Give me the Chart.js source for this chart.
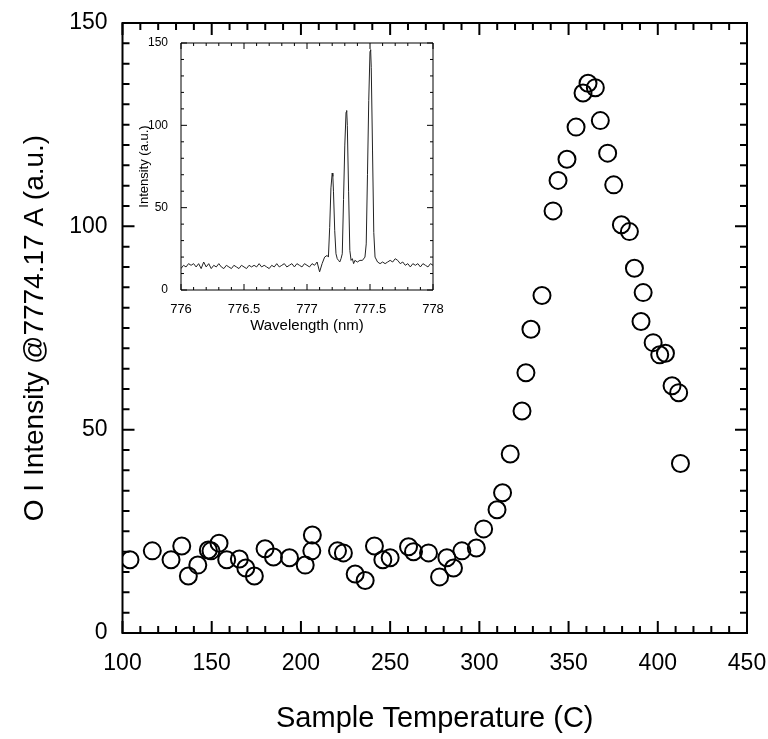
<!DOCTYPE html>
<html>
<head>
<meta charset="utf-8">
<script src="https://cdn.jsdelivr.net/npm/chart.js@4.4.1/dist/chart.umd.min.js"></script>
<style>
  body { margin: 0; background: #fff; }
  #wrap { position: relative; width: 768px; height: 739px; }
  #main { position: absolute; left: 0; top: 0; }
  #inset { position: absolute; left: 120px; top: 30px; }
</style>
</head>
<body>
<div id="wrap">
  <canvas id="main" width="768" height="739"></canvas>
  <canvas id="inset" width="330" height="310"></canvas>
</div>
<script>
// main plot: O I line intensity vs sample temperature
const temps = [104.2, 116.7, 127.2, 133.2, 136.9, 142.2, 148.1, 149.6, 154.1, 158.4,
  165.5, 169.1, 173.9, 179.9, 184.6, 193.6, 202.4, 206.1, 206.4, 220.5,
  223.8, 230.4, 236.0, 241.2, 245.9, 250.0, 260.3, 263.1, 271.5, 277.7,
  281.8, 285.5, 290.2, 298.3, 302.4, 309.9, 313.0, 317.3, 323.9, 326.1,
  328.9, 335.1, 341.3, 344.1, 349.1, 354.2, 358.1, 360.9, 365.0, 367.8,
  371.9, 375.3, 379.6, 384.1, 386.9, 391.8, 390.6, 397.4, 401.1, 404.3,
  408.0, 411.7, 412.7];
const intensity = [18.0, 20.2, 18.0, 21.4, 14.0, 16.7, 20.4, 20.2, 22.1, 18.0,
  18.2, 16.0, 14.0, 20.7, 18.7, 18.5, 16.7, 20.2, 24.1, 20.2,
  19.7, 14.5, 12.9, 21.4, 18.0, 18.5, 21.2, 20.0, 19.7, 13.8,
  18.5, 16.0, 20.2, 20.9, 25.6, 30.3, 34.5, 44.0, 54.6, 64.0,
  74.7, 83.0, 103.8, 111.3, 116.5, 124.4, 132.8, 135.2, 134.1, 126.0,
  118.0, 110.2, 100.4, 98.7, 89.7, 83.7, 76.6, 71.4, 68.4, 68.8,
  60.8, 59.1, 41.7];

// inset: emission spectrum
const wavelength = [776.00, 776.02, 776.04, 776.06, 776.08, 776.10, 776.12, 776.14, 776.16, 776.18,
  776.20, 776.22, 776.24, 776.26, 776.28, 776.30, 776.32, 776.34, 776.36, 776.38,
  776.40, 776.42, 776.44, 776.46, 776.48, 776.50, 776.52, 776.54, 776.56, 776.58,
  776.60, 776.62, 776.64, 776.66, 776.68, 776.70, 776.72, 776.74, 776.76, 776.78,
  776.80, 776.82, 776.84, 776.86, 776.88, 776.90, 776.92, 776.94, 776.96, 776.98,
  777.00, 777.02, 777.04, 777.06, 777.08, 777.10, 777.12, 777.14, 777.16, 777.17,
  777.18, 777.19, 777.20, 777.205, 777.21, 777.22, 777.23, 777.24, 777.25, 777.26,
  777.27, 777.28, 777.29, 777.30, 777.31, 777.315, 777.32, 777.33, 777.34, 777.35,
  777.36, 777.37, 777.38, 777.40, 777.42, 777.44, 777.46, 777.47, 777.48, 777.49,
  777.50, 777.505, 777.51, 777.52, 777.53, 777.54, 777.56, 777.58, 777.60, 777.62,
  777.64, 777.66, 777.68, 777.70, 777.72, 777.74, 777.76, 777.78, 777.80, 777.82,
  777.84, 777.86, 777.88, 777.90, 777.92, 777.94, 777.96, 777.98, 778.00];
const spectrum = [13, 15, 14, 16, 15, 16, 14, 16, 13, 17,
  14, 16, 13, 15, 14, 16, 14, 13, 15, 14,
  13, 15, 14, 13, 15, 14, 13, 15, 14, 15,
  14, 16, 14, 15, 14, 13, 15, 14, 16, 14,
  15, 16, 14, 15, 16, 14, 16, 15, 14, 16,
  15, 14, 16, 15, 17, 11, 16, 20, 21, 20,
  38, 62, 71, 69, 60, 36, 22, 19, 18, 17,
  19, 22, 55, 88, 108, 109, 100, 60, 24, 18,
  19, 16, 18, 17, 18, 18, 20, 28, 70, 115,
  145, 146, 135, 85, 35, 20, 17, 16, 17, 16,
  17, 18, 17, 19, 18, 16, 17, 15, 16, 14,
  16, 15, 16, 14, 16, 15, 14, 16, 15];

const FONT = "'Liberation Sans', Arial, sans-serif";

// draws inward tick marks on all four sides plus the closing frame
const insideTicks = {
  id: 'insideTicks',
  afterDraw(chart, args, o) {
    const { ctx, chartArea: a } = chart;
    const xs = chart.scales.x, ys = chart.scales.y;
    ctx.save();
    ctx.strokeStyle = '#000';
    ctx.lineWidth = o.lineWidth;
    ctx.beginPath();
    ctx.rect(a.left, a.top, a.right - a.left, a.bottom - a.top);
    ctx.stroke();
    ctx.beginPath();
    const nx = Math.round((xs.max - xs.min) / o.xMinor);
    for (let i = 0; i <= nx; i++) {
      const v = xs.min + i * o.xMinor;
      const major = Math.abs(v / o.xMajor - Math.round(v / o.xMajor)) < 1e-6;
      const len = major ? o.majorLen : o.minorLen;
      const px = xs.getPixelForValue(v);
      ctx.moveTo(px, a.bottom); ctx.lineTo(px, a.bottom - len);
      ctx.moveTo(px, a.top); ctx.lineTo(px, a.top + len);
    }
    const ny = Math.round((ys.max - ys.min) / o.yMinor);
    for (let i = 0; i <= ny; i++) {
      const v = ys.min + i * o.yMinor;
      const major = Math.abs(v / o.yMajor - Math.round(v / o.yMajor)) < 1e-6;
      const len = major ? o.majorLen : o.minorLen;
      const py = ys.getPixelForValue(v);
      ctx.moveTo(a.left, py); ctx.lineTo(a.left + len, py);
      ctx.moveTo(a.right, py); ctx.lineTo(a.right - len, py);
    }
    ctx.stroke();
    ctx.restore();
  }
};

const plain = v => String(v);
// fixed axis box size; label overhang is left to the layout padding
const fixW = w => s => { s.width = w; s.paddingTop = 0; s.paddingBottom = 0; };
const fixH = h => s => { s.height = h; s.paddingLeft = 0; s.paddingRight = 0; };

new Chart(document.getElementById('main'), {
  type: 'scatter',
  data: {
    datasets: [{
      data: temps.map((t, i) => ({ x: t, y: intensity[i] })),
      pointRadius: 8.5,
      pointBorderWidth: 2,
      pointBorderColor: '#000',
      pointBackgroundColor: 'rgba(0,0,0,0)'
    }]
  },
  options: {
    responsive: false,
    devicePixelRatio: 1,
    animation: false,
    layout: { padding: { top: 23, right: 21, left: 0, bottom: 0 } },
    plugins: {
      legend: { display: false },
      tooltip: { enabled: false },
      insideTicks: { xMajor: 50, xMinor: 10, yMajor: 50, yMinor: 5, majorLen: 12, minorLen: 7, lineWidth: 2 }
    },
    scales: {
      x: {
        type: 'linear', min: 100, max: 450,
        grid: { display: false },
        border: { display: false },
        ticks: { stepSize: 50, padding: 9, color: '#000', font: { family: FONT, size: 23 }, callback: plain },
        title: { display: true, text: 'Sample Temperature (C)', color: '#000',
          font: { family: FONT, size: 29 }, padding: { top: 0, bottom: 3 } },
        afterFit: fixH(106)
      },
      y: {
        min: 0, max: 150,
        grid: { display: false },
        border: { display: false },
        ticks: { stepSize: 50, padding: 7, color: '#000', font: { family: FONT, size: 23 }, callback: plain },
        title: { display: true, text: 'O I Intensity @7774.17 A (a.u.)', color: '#000',
          font: { family: FONT, size: 28 }, padding: { top: 18, bottom: 0 } },
        afterFit: fixW(122.5)
      }
    }
  },
  plugins: [insideTicks]
});

new Chart(document.getElementById('inset'), {
  type: 'line',
  data: {
    datasets: [{
      data: wavelength.map((w, i) => ({ x: w, y: spectrum[i] })),
      borderColor: '#222',
      borderWidth: 1,
      pointRadius: 0,
      tension: 0
    }]
  },
  options: {
    responsive: false,
    devicePixelRatio: 1,
    animation: false,
    layout: { padding: { top: 13, right: 17, left: 0, bottom: 0 } },
    plugins: {
      legend: { display: false },
      tooltip: { enabled: false },
      insideTicks: { xMajor: 0.5, xMinor: 0.1, yMajor: 50, yMinor: 10, majorLen: 6, minorLen: 3, lineWidth: 1 }
    },
    scales: {
      x: {
        type: 'linear', min: 776, max: 778,
        grid: { display: false },
        border: { display: false },
        ticks: { stepSize: 0.5, padding: 4, color: '#000', font: { family: FONT, size: 13 }, callback: plain },
        title: { display: true, text: 'Wavelength (nm)', color: '#000',
          font: { family: FONT, size: 15 }, padding: { top: 0, bottom: 5 } },
        afterFit: fixH(50)
      },
      y: {
        min: 0, max: 150,
        grid: { display: false },
        border: { display: false },
        ticks: { stepSize: 50, padding: 5, color: '#000', font: { family: FONT, size: 12 }, callback: plain },
        title: { display: true, text: 'Intensity (a.u.)', color: '#000',
          font: { family: FONT, size: 13 }, padding: { top: 17, bottom: 0 } },
        afterFit: fixW(61)
      }
    }
  },
  plugins: [insideTicks]
});
</script>
</body>
</html>
